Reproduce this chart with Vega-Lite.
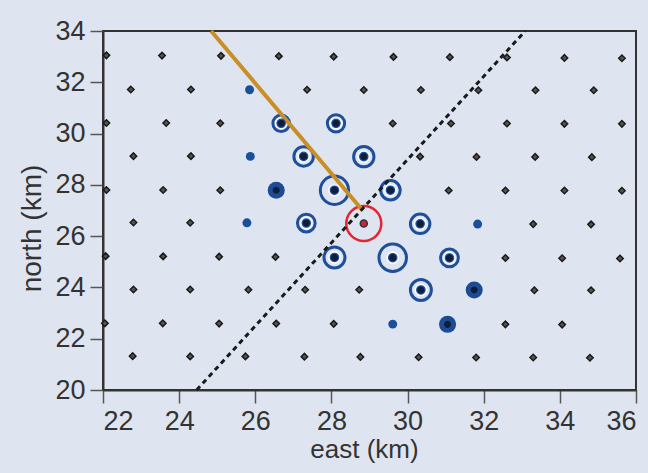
{
  "$schema": "https://vega.github.io/schema/vega-lite/v6.json",
  "autosize": "none",
  "width": 533,
  "height": 359,
  "padding": {"left": 103, "top": 31, "right": 12, "bottom": 83},
  "background": "#dfe5f0",
  "config": {
    "view": {"stroke": "#333333", "strokeWidth": 2},
    "font": "Liberation Sans",
    "axis": {
      "labelFont": "Liberation Sans",
      "titleFont": "Liberation Sans",
      "labelFontSize": 27,
      "titleFontSize": 25,
      "titleFontWeight": "normal",
      "labelColor": "#333333",
      "titleColor": "#333333",
      "domainColor": "#333333",
      "domainWidth": 2,
      "tickColor": "#555555",
      "tickWidth": 1.5,
      "tickSize": 13,
      "grid": false
    }
  },
  "datasets": {
    "stations": [
      {"east": 22.09, "north": 33.05, "kind": "station"},
      {"east": 23.55, "north": 33.04, "kind": "station"},
      {"east": 25.10, "north": 33.03, "kind": "station"},
      {"east": 26.62, "north": 33.02, "kind": "station"},
      {"east": 28.06, "north": 33.00, "kind": "station"},
      {"east": 29.63, "north": 32.99, "kind": "station"},
      {"east": 31.11, "north": 32.98, "kind": "station"},
      {"east": 32.61, "north": 32.97, "kind": "station"},
      {"east": 34.12, "north": 32.95, "kind": "station"},
      {"east": 35.63, "north": 32.94, "kind": "station"},
      {"east": 22.73, "north": 31.72, "kind": "station"},
      {"east": 24.31, "north": 31.72, "kind": "station"},
      {"east": 25.85, "north": 31.71, "kind": "dot"},
      {"east": 27.36, "north": 31.71, "kind": "station"},
      {"east": 28.85, "north": 31.70, "kind": "station"},
      {"east": 30.35, "north": 31.70, "kind": "station"},
      {"east": 31.86, "north": 31.69, "kind": "station"},
      {"east": 33.36, "north": 31.69, "kind": "station"},
      {"east": 34.89, "north": 31.69, "kind": "station"},
      {"east": 22.09, "north": 30.41, "kind": "station"},
      {"east": 23.66, "north": 30.41, "kind": "station"},
      {"east": 25.08, "north": 30.40, "kind": "station"},
      {"east": 26.68, "north": 30.40, "kind": "ring", "amplitude": 2.75},
      {"east": 28.12, "north": 30.40, "kind": "ring", "amplitude": 3.0},
      {"east": 29.61, "north": 30.39, "kind": "station"},
      {"east": 31.14, "north": 30.39, "kind": "station"},
      {"east": 32.61, "north": 30.39, "kind": "station"},
      {"east": 34.12, "north": 30.38, "kind": "station"},
      {"east": 35.63, "north": 30.38, "kind": "station"},
      {"east": 22.80, "north": 29.12, "kind": "station"},
      {"east": 24.31, "north": 29.12, "kind": "station"},
      {"east": 25.87, "north": 29.11, "kind": "dot"},
      {"east": 27.27, "north": 29.11, "kind": "ring", "amplitude": 3.8},
      {"east": 28.85, "north": 29.10, "kind": "ring", "amplitude": 4.15},
      {"east": 30.33, "north": 29.10, "kind": "station"},
      {"east": 31.81, "north": 29.09, "kind": "station"},
      {"east": 33.35, "north": 29.09, "kind": "station"},
      {"east": 34.84, "north": 29.08, "kind": "station"},
      {"east": 22.09, "north": 27.80, "kind": "station"},
      {"east": 23.58, "north": 27.80, "kind": "station"},
      {"east": 25.08, "north": 27.79, "kind": "station"},
      {"east": 26.55, "north": 27.79, "kind": "filled"},
      {"east": 28.08, "north": 27.79, "kind": "ring", "amplitude": 8.0},
      {"east": 29.55, "north": 27.79, "kind": "ring", "amplitude": 3.8},
      {"east": 31.08, "north": 27.78, "kind": "station"},
      {"east": 32.57, "north": 27.78, "kind": "station"},
      {"east": 34.12, "north": 27.78, "kind": "station"},
      {"east": 35.63, "north": 27.77, "kind": "station"},
      {"east": 22.80, "north": 26.53, "kind": "station"},
      {"east": 24.29, "north": 26.52, "kind": "station"},
      {"east": 25.78, "north": 26.52, "kind": "dot"},
      {"east": 27.34, "north": 26.51, "kind": "ring", "amplitude": 3.15},
      {"east": 28.85, "north": 26.49, "kind": "source"},
      {"east": 30.33, "north": 26.48, "kind": "ring", "amplitude": 3.8},
      {"east": 31.84, "north": 26.47, "kind": "dot"},
      {"east": 33.30, "north": 26.47, "kind": "station"},
      {"east": 34.82, "north": 26.46, "kind": "station"},
      {"east": 22.07, "north": 25.22, "kind": "station"},
      {"east": 23.58, "north": 25.21, "kind": "station"},
      {"east": 25.05, "north": 25.20, "kind": "station"},
      {"east": 26.53, "north": 25.19, "kind": "station"},
      {"east": 28.08, "north": 25.17, "kind": "ring", "amplitude": 4.4},
      {"east": 29.61, "north": 25.16, "kind": "ring", "amplitude": 7.55},
      {"east": 31.10, "north": 25.15, "kind": "ring", "amplitude": 3.15},
      {"east": 32.57, "north": 25.15, "kind": "station"},
      {"east": 34.06, "north": 25.14, "kind": "station"},
      {"east": 35.58, "north": 25.13, "kind": "station"},
      {"east": 22.80, "north": 23.92, "kind": "station"},
      {"east": 24.29, "north": 23.92, "kind": "station"},
      {"east": 25.82, "north": 23.91, "kind": "station"},
      {"east": 27.31, "north": 23.91, "kind": "station"},
      {"east": 28.73, "north": 23.91, "kind": "station"},
      {"east": 30.35, "north": 23.90, "kind": "ring", "amplitude": 4.4},
      {"east": 31.75, "north": 23.90, "kind": "filled"},
      {"east": 33.33, "north": 23.89, "kind": "station"},
      {"east": 34.82, "north": 23.89, "kind": "station"},
      {"east": 22.05, "north": 22.60, "kind": "station"},
      {"east": 23.57, "north": 22.60, "kind": "station"},
      {"east": 25.05, "north": 22.59, "kind": "station"},
      {"east": 26.55, "north": 22.59, "kind": "station"},
      {"east": 28.06, "north": 22.58, "kind": "station"},
      {"east": 29.61, "north": 22.57, "kind": "dot"},
      {"east": 31.05, "north": 22.56, "kind": "filled"},
      {"east": 32.57, "north": 22.56, "kind": "station"},
      {"east": 34.06, "north": 22.55, "kind": "station"},
      {"east": 22.78, "north": 21.32, "kind": "station"},
      {"east": 24.29, "north": 21.31, "kind": "station"},
      {"east": 25.74, "north": 21.31, "kind": "station"},
      {"east": 27.29, "north": 21.30, "kind": "station"},
      {"east": 28.76, "north": 21.29, "kind": "station"},
      {"east": 30.29, "north": 21.28, "kind": "station"},
      {"east": 31.80, "north": 21.27, "kind": "station"},
      {"east": 33.30, "north": 21.27, "kind": "station"},
      {"east": 34.79, "north": 21.26, "kind": "station"}
    ],
    "lines": [
      {"line": "strike", "east": 24.84, "north": 34.0},
      {"line": "strike", "east": 28.82, "north": 27.0},
      {"line": "boundary", "east": 24.46, "north": 20.0},
      {"line": "boundary", "east": 33.09, "north": 34.0}
    ]
  },
  "encoding": {
    "x": {
      "field": "east", "type": "quantitative",
      "scale": {"domain": [22, 36], "nice": false, "zero": false},
      "axis": {"values": [22, 24, 26, 28, 30, 32, 34, 36], "title": "east (km)", "labelPadding": 5, "titleX": 261, "titleY": 67, "titleBaseline": "alphabetic", "titleFontSize": 26}
    },
    "y": {
      "field": "north", "type": "quantitative",
      "scale": {"domain": [20, 34], "nice": false, "zero": false},
      "axis": {"values": [20, 22, 24, 26, 28, 30, 32, 34], "title": "north (km)", "labelPadding": 5, "titleX": -63, "titleY": 197, "titleBaseline": "alphabetic", "titleAngle": -90, "titleFontSize": 28}
    }
  },
  "layer": [
    {
      "data": {"name": "stations"},
      "transform": [{"filter": "datum.kind === 'station'"}],
      "mark": {"type": "point", "shape": "diamond", "filled": true, "size": 42, "fill": "#555555", "stroke": "#1a1a1a", "strokeWidth": 1.5, "opacity": 1}
    },
    {
      "data": {"name": "stations"},
      "transform": [{"filter": "datum.kind === 'dot'"}],
      "mark": {"type": "circle", "size": 80, "color": "#1a4f9c", "opacity": 1}
    },
    {
      "data": {"name": "stations"},
      "transform": [{"filter": "datum.kind === 'filled'"}],
      "mark": {"type": "circle", "size": 290, "color": "#1d4b92", "opacity": 1}
    },
    {
      "data": {"name": "stations"},
      "transform": [{"filter": "datum.kind === 'ring'"}],
      "mark": {"type": "circle", "size": 160, "color": "#ffffff", "opacity": 0.8}
    },
    {
      "data": {"name": "stations"},
      "transform": [{"filter": "datum.kind === 'ring'"}],
      "mark": {"type": "point", "shape": "circle", "filled": false, "stroke": "#1f4f9a", "strokeWidth": 3, "opacity": 1},
      "encoding": {
        "size": {"field": "amplitude", "type": "quantitative", "scale": {"type": "linear", "domain": [0, 10], "range": [0, 1000]}, "legend": null}
      }
    },
    {
      "data": {"name": "stations"},
      "transform": [{"filter": "datum.kind === 'source'"}],
      "mark": {"type": "point", "shape": "circle", "filled": false, "size": 1225, "stroke": "#e3262f", "strokeWidth": 2.5, "opacity": 1}
    },
    {
      "data": {"name": "lines"},
      "transform": [{"filter": "datum.line === 'strike'"}],
      "mark": {"type": "line", "color": "#c98f26", "strokeWidth": 4, "strokeCap": "butt"}
    },
    {
      "data": {"name": "lines"},
      "transform": [{"filter": "datum.line === 'boundary'"}],
      "mark": {"type": "line", "color": "#1a1a1a", "strokeWidth": 3, "strokeDash": [5, 4]}
    },
    {
      "data": {"name": "stations"},
      "transform": [{"filter": "datum.kind === 'ring' || datum.kind === 'filled'"}],
      "mark": {"type": "point", "shape": "circle", "filled": true, "size": 70, "fill": "#0f1e3d", "stroke": "#1f4f9a", "strokeWidth": 1.2, "opacity": 1}
    },
    {
      "data": {"name": "stations"},
      "transform": [{"filter": "datum.kind === 'source'"}],
      "mark": {"type": "point", "shape": "circle", "filled": true, "size": 50, "fill": "#d4203a", "stroke": "#333333", "strokeWidth": 1.5, "opacity": 1}
    }
  ]
}
